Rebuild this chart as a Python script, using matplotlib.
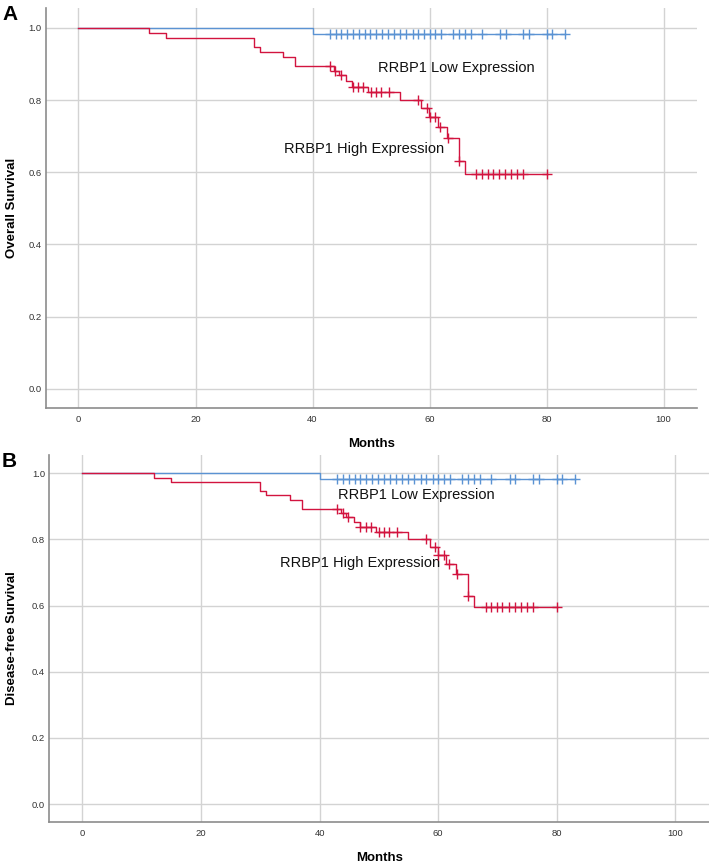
import numpy as np
import matplotlib
matplotlib.use("Agg")
import matplotlib.pyplot as plt

plt.rcParams['font.family'] = ['Liberation Sans', 'DejaVu Sans']

# ---- data ----
x_ticks = [0, 20, 40, 60, 80, 100]
y_ticks = [0.0, 0.2, 0.4, 0.6, 0.8, 1.0]

# RRBP1 High Expression: Kaplan-Meier step times and survival after each step
high_times = [0, 12, 15, 30, 31, 35, 37, 43.6, 44.5, 45.8, 46.8, 49.5, 55, 58.6, 59.9, 61.4, 63, 65, 66.1]
high_surv = [1.0, 0.987, 0.973, 0.947, 0.933, 0.920, 0.893, 0.881, 0.869, 0.852, 0.837, 0.823,
             0.800, 0.778, 0.754, 0.725, 0.694, 0.630, 0.595]
high_censor = [42.9, 43.9, 44.8, 46.9, 47.8, 48.6, 50.0, 50.9, 51.7, 53.0, 58.0, 59.5, 60.0,
               61.0, 61.8, 63.2, 65.0, 68.0, 69.0, 69.9, 70.8, 71.9, 72.9, 74.0, 75.0, 76.0, 80.1]

# RRBP1 Low Expression
low_times = [0, 40]
low_surv = [1.0, 0.983]
low_censor = [42.9, 44.0, 44.9, 45.9, 46.9, 47.9, 48.9, 49.9, 50.9, 51.9, 52.9, 53.9, 55.0, 56.0,
              57.1, 58.0, 59.1, 60.0, 61.0, 62.0, 64.0, 65.1, 66.1, 67.0, 69.0, 72.1, 73.0, 76.0,
              77.0, 80.1, 80.9, 83.1]

panels = [
    dict(letter="A", ylabel="Overall Survival",
         low_text=(51.2, 0.89), high_text=(35.2, 0.664)),
    dict(letter="B", ylabel="Disease-free Survival",
         low_text=(43.1, 0.935), high_text=(33.3, 0.728)),
]

W, H = 709, 863
fig = plt.figure(figsize=(W / 100, H / 100), dpi=100)

# axes rectangles in pixels: left, top, right, bottom
rects = [(45.7, 8, 697, 408.3), (49.3, 455, 709, 822)]

blue = '#5b93d3'
red = '#d2143f'
grid_c = '#d3d3d3'
spine_c = '#8c8c8c'


def km_curve(ax, times, surv, censor, color, z):
    t = np.asarray(times, float)
    s = np.asarray(surv, float)
    c = np.asarray(censor, float)
    t_end = max(t[-1], c.max())
    ax.step(np.append(t, t_end), np.append(s, s[-1]), where='post', color=color, lw=1.0, zorder=z)
    idx = np.searchsorted(t, c, side='right') - 1
    ax.plot(c, s[idx], ls='none', marker='+', ms=6.5, mew=1.0, color=color, zorder=z)


for p, (l, t, r, b) in zip(panels, rects):
    ax = fig.add_axes([l / W, 1 - b / H, (r - l) / W, (b - t) / H])
    ax.set_xlim(-5.6, 105.7)
    ax.set_ylim(-0.054, 1.055)
    ax.set_xticks(x_ticks)
    ax.set_yticks(y_ticks)
    ax.set_xticklabels([str(v) for v in x_ticks])
    ax.set_yticklabels([f"{v:.1f}" for v in y_ticks])
    ax.tick_params(length=0, labelsize=6.8, labelcolor='#333333')
    ax.tick_params(axis='x', pad=5)
    ax.tick_params(axis='y', pad=3)
    ax.grid(True, color=grid_c, lw=1.0)
    ax.set_axisbelow(True)
    for s in ['top', 'right']:
        ax.spines[s].set_visible(False)
    for s in ['left', 'bottom']:
        ax.spines[s].set_color(spine_c)
        ax.spines[s].set_linewidth(1.2)

    km_curve(ax, low_times, low_surv, low_censor, blue, 3)
    km_curve(ax, high_times, high_surv, high_censor, red, 4)

    ax.text(p['low_text'][0], p['low_text'][1], "RRBP1 Low Expression", fontsize=10.5,
            va='center', ha='left', color='#111111')
    ax.text(p['high_text'][0], p['high_text'][1], "RRBP1 High Expression", fontsize=10.5,
            va='center', ha='left', color='#111111')

    cx = (l + r) / 2
    cy = (t + b) / 2
    fig.text(cx / W, 1 - (b + 36) / H, "Months", fontsize=9.5, fontweight='bold',
             ha='center', va='center')
    fig.text(12 / W, 1 - cy / H, p['ylabel'], fontsize=9.5, fontweight='bold',
             rotation=90, ha='center', va='center')
    fig.text(2 / W, 1 - (t + 6) / H, p['letter'], fontsize=15, fontweight='bold',
             ha='left', va='center')

fig.savefig("out.png", dpi=100)
